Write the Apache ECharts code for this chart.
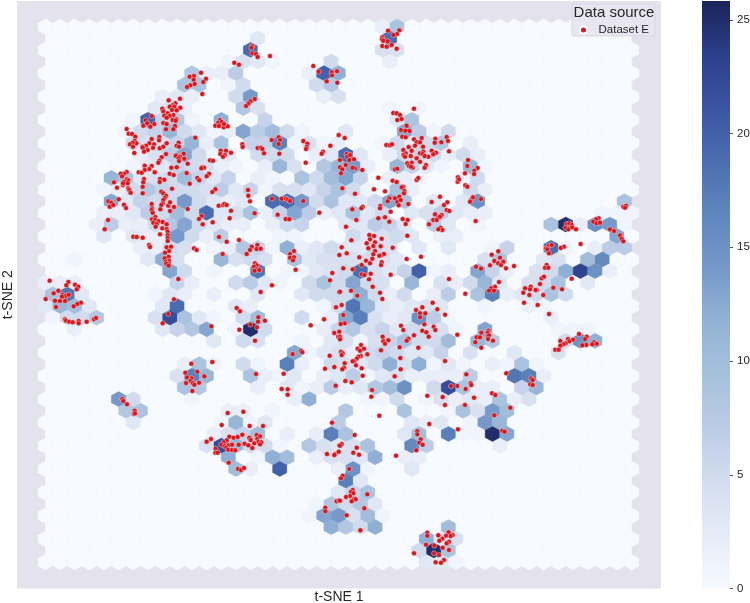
<!DOCTYPE html>
<html><head><meta charset="utf-8">
<style>html,body{margin:0;padding:0;background:#fff}#c{width:750px;height:603px}</style>
<script src="https://cdn.jsdelivr.net/npm/echarts@6/dist/echarts.min.js"></script></head>
<body><div id="c"></div>
<script>
// hexCounts[row] = [col,count, col,count, ...]; cells not listed hold 0
const hexCounts = [
/*0*/[23,2,24,9],
/*1*/[14,3,23,19],
/*2*/[14,19,23,4,24,4],
/*3*/[12,1,13,4,14,3,15,1,19,5,23,2],
/*4*/[10,8,11,2,12,2,13,7,18,2,19,20,20,12],
/*5*/[9,9,10,9,12,1,13,5,18,5,19,8],
/*6*/[8,2,9,3,10,2,13,5,14,14,19,2,20,4],
/*7*/[7,3,8,4,9,2,13,8,14,4,23,1,25,1],
/*8*/[6,1,7,20,8,6,9,8,10,1,12,12,15,6,24,3,25,9],
/*9*/[5,1,6,5,7,6,8,11,9,5,10,3,11,1,12,2,13,13,14,7,15,10,16,5,17,1,20,3,24,13,25,7,26,1,27,5],
/*10*/[6,5,7,4,8,4,9,6,10,11,11,2,12,9,14,6,15,6,16,17,17,1,18,4,19,1,20,2,23,1,24,5,25,2,26,5,27,8,29,2],
/*11*/[6,2,7,4,8,7,9,13,10,5,11,1,12,3,14,5,15,5,16,5,18,2,19,3,20,19,21,3,23,2,24,5,25,6,26,5,27,2,28,5,29,2],
/*12*/[6,1,7,3,8,3,9,6,10,5,11,4,12,2,13,1,15,2,16,11,17,4,19,8,20,11,21,14,22,2,24,11,25,6,26,3,27,1,29,11,30,1],
/*13*/[4,11,5,9,6,3,7,4,8,5,9,10,10,6,11,3,12,6,14,2,15,1,17,9,18,5,19,10,20,13,21,6,23,2,24,2,25,1,28,1,29,5],
/*14*/[4,1,5,2,6,5,7,8,8,6,9,5,10,5,11,4,12,7,13,3,14,6,15,1,16,4,17,4,18,3,19,6,20,9,21,5,22,1,24,9,25,2,29,5,30,2],
/*15*/[4,13,5,3,6,6,7,5,8,5,9,14,10,5,11,3,12,2,13,3,15,19,16,19,17,14,18,5,19,9,20,3,21,3,22,5,23,13,24,9,26,3,28,3,29,15,39,9],
/*16*/[4,2,5,2,6,3,7,7,8,5,9,10,10,5,11,19,12,3,13,4,14,9,15,2,16,6,17,13,18,7,19,2,20,3,21,9,22,3,23,5,25,3,26,4,27,7,28,3,29,2,30,2,38,1,39,1,40,1],
/*17*/[3,2,4,7,5,2,6,2,7,5,8,8,9,13,10,5,11,3,12,2,13,2,15,2,16,5,17,6,20,3,21,3,22,7,23,6,24,3,26,7,27,3,29,1,34,9,35,25,36,2,37,15,38,14,39,1],
/*18*/[4,3,6,3,7,2,8,2,9,14,10,5,11,2,12,7,16,1,17,1,21,5,22,3,23,4,24,5,25,3,27,2,28,2,39,13],
/*19*/[6,2,7,2,8,5,9,4,11,1,12,2,13,8,14,6,15,1,16,12,17,2,18,3,19,5,20,3,21,3,22,6,23,4,25,3,27,3,30,1,31,6,34,19,35,1,37,2,38,7,39,7],
/*20*/[2,1,7,3,8,12,9,4,12,11,13,4,14,5,15,4,17,9,18,3,19,4,20,4,21,4,22,5,23,4,24,3,30,4,31,9,34,3,35,4,37,10,38,16],
/*21*/[8,13,9,5,11,1,14,18,16,1,17,1,18,3,19,4,20,5,21,19,22,4,23,3,24,6,25,20,26,1,27,2,29,13,30,6,31,2,33,4,34,5,35,12,36,23,37,15,38,2],
/*22*/[0,2,1,2,2,2,9,6,10,2,13,5,14,7,15,3,16,1,18,5,19,9,20,5,21,13,22,5,23,4,25,11,27,4,28,2,29,5,30,11,31,3,33,4,34,5,35,9,37,3],
/*23*/[0,9,1,18,2,3,7,1,8,3,9,2,11,2,14,3,17,3,18,5,19,5,20,5,21,12,22,5,23,2,24,5,26,2,27,7,29,9,30,17,31,2,32,3,33,5,34,9,35,5],
/*24*/[0,3,1,11,2,10,3,3,8,3,9,19,13,3,14,2,19,1,20,5,21,18,22,11,23,3,24,2,25,3,26,4,27,3,30,1,33,2,34,1],
/*25*/[0,1,1,5,2,5,3,8,7,4,8,22,9,9,10,3,11,1,13,5,14,10,17,5,19,2,20,13,21,17,22,4,23,2,24,3,25,15,26,7,27,1,34,2],
/*26*/[2,2,8,3,9,6,10,8,11,13,13,1,14,25,15,5,19,2,20,6,21,8,22,4,23,6,24,3,25,5,26,5,27,4,28,1,30,13,35,1,36,1,37,1],
/*27*/[11,3,13,5,14,4,17,1,19,3,20,4,21,1,22,4,23,6,24,9,25,5,26,5,27,10,29,11,30,8,35,5,36,15,37,12],
/*28*/[17,13,18,1,19,3,20,4,21,2,22,5,23,6,24,5,25,3,26,3,27,6,29,4,32,3,35,4],
/*29*/[9,2,10,9,11,1,13,5,14,1,16,17,17,2,19,5,20,4,21,3,22,5,23,12,24,4,25,12,26,1,27,3,28,1,30,2,31,1,32,9,33,1],
/*30*/[9,4,10,17,11,11,14,9,15,2,16,1,17,3,19,2,20,3,21,7,22,1,23,3,24,4,25,2,26,2,27,2,28,2,29,7,32,18,33,17,34,2],
/*31*/[9,9,10,8,14,2,16,3,17,1,18,2,19,7,20,2,21,3,22,8,23,10,24,15,26,5,27,22,28,9,29,2,30,2,32,6,33,11],
/*32*/[5,14,6,5,10,1,17,2,18,12,22,1,23,1,24,5,26,1,27,4,28,2,29,3,30,2,31,9,32,2,33,4],
/*33*/[5,8,6,9,12,2,13,2,15,1,20,8,24,9,27,1,28,9,29,4,30,14,31,10],
/*34*/[6,3,12,1,13,11,14,1,15,3,20,7,25,3,26,2,27,3,29,1,30,14,31,11],
/*35*/[11,2,12,4,13,6,14,10,16,2,18,2,19,17,20,9,24,3,25,10,27,17,28,1,29,1,30,25,31,13],
/*36*/[11,4,12,22,13,11,14,5,15,5,16,1,18,8,19,4,20,3,21,4,22,9,25,16,26,7,31,2],
/*37*/[12,12,14,1,15,12,16,10,18,2,19,4,20,4,21,3,22,12,24,2,25,2],
/*38*/[13,10,14,2,16,20,20,2,21,15,22,1,25,3],
/*39*/[20,17,21,3],
/*40*/[20,3,21,6,22,9],
/*41*/[18,1,19,8,20,5,21,8,22,3],
/*42*/[18,1,19,13,20,14,21,4,22,10,23,1],
/*43*/[19,12,20,8,21,5,22,12,27,10],
/*44*/[26,12,27,3,28,4],
/*45*/[25,5,26,25,27,9],
/*46*/[26,3,27,3,28,1]
];

const pointsUpperLeft = [[757,138],[754,143],[757,160],[768,162],[773,171],[810,168],[703,188],[717,194],[940,198],[956,215],[995,217],[1011,214],[996,226],[980,244],[1012,248],[569,230],[582,228],[603,218],[618,236],[581,239],[610,246],[584,252],[571,256],[561,261],[607,282],[764,297],[751,304],[745,311],[738,318],[540,296],[506,301],[526,310],[518,316],[509,320],[523,320],[541,323],[487,326],[516,330],[530,331],[490,334],[503,340],[520,345],[509,348],[493,347],[500,353],[529,358],[518,360],[527,362],[455,348],[437,361],[430,377],[442,370],[451,380],[463,372],[490,369],[500,372],[525,378],[520,388],[498,388],[380,387],[386,401],[396,402],[406,410],[404,423],[409,430],[398,428],[390,433],[399,440],[403,459],[455,417],[478,411],[477,421],[448,430],[462,433],[438,437],[427,440],[443,450],[428,443],[459,443],[432,455],[479,445],[490,440],[500,430],[536,428],[530,437],[537,440],[586,413],[660,360],[655,368],[665,366],[646,377],[657,378],[671,382],[683,379],[672,372],[727,433],[728,441],[773,444],[783,443],[787,447],[792,460],[815,420],[836,412],[840,420],[836,432],[838,461],[662,452],[678,452],[693,458],[661,462],[674,465],[669,470],[910,423],[922,431],[920,441],[918,447],[969,455],[965,461],[991,437],[1016,405],[530,465],[551,461],[527,467],[540,470],[536,475],[553,476],[537,483],[498,462],[485,472],[478,482],[475,488],[563,491],[607,502],[612,503],[604,505],[630,481],[639,482],[434,497],[455,498],[448,507],[434,510],[464,517],[416,517],[425,518],[380,516],[372,521],[362,521],[366,529],[530,502],[514,503],[509,521],[521,525],[560,519],[627,521],[620,529],[592,534],[598,541],[917,488],[380,538],[385,541],[372,545],[383,550],[369,555],[342,547],[432,537],[430,547],[480,537],[493,539],[479,546],[369,550],[428,560],[516,566],[351,563],[385,565],[388,570],[392,578],[428,580],[484,575],[569,551],[646,568],[637,576],[490,580],[744,570],[745,587],[750,604],[816,596],[845,596],[858,596],[863,600],[870,603],[910,603],[498,587],[494,594],[490,600],[488,610],[484,615],[481,628],[522,621],[510,633],[505,617],[510,607],[356,598],[325,604],[334,608],[329,620],[340,615],[372,614],[378,624],[455,612],[456,625],[455,630],[458,638],[563,627],[656,617],[669,615],[673,612],[680,615],[693,632],[689,655],[764,640],[833,644],[857,657],[868,658],[958,638],[605,648],[597,657],[608,673],[638,667],[466,651],[456,658],[465,660],[476,664],[488,666],[460,668],[470,672],[467,680],[487,685],[500,673],[500,687],[503,695],[503,706],[503,714],[503,723],[324,660],[314,688],[480,703],[400,710],[410,711],[428,713],[447,735],[450,741],[500,742],[513,740],[507,753],[495,758],[582,745],[590,750],[506,770],[494,775],[507,782],[497,785],[506,790],[499,791],[506,797],[535,837],[657,711],[680,725],[717,720],[772,735],[755,740],[750,750],[770,747],[782,746],[740,762],[668,762],[882,753],[870,762],[870,773],[882,772],[879,781],[887,809],[765,790],[770,796],[762,800],[770,808],[764,812],[778,810],[816,856],[782,876],[997,819],[990,841],[1018,765],[149,842],[205,846],[199,856],[225,854],[235,860],[230,868],[175,872],[161,880],[188,884],[196,888],[206,884],[186,890],[137,897],[522,898],[1018,877]];

const pointsUpperRight = [[1164,92],[1198,91],[1191,102],[1180,105],[1147,112],[1146,118],[1150,122],[1163,124],[1147,138],[1160,140],[1175,135],[1190,146],[1242,326],[1180,339],[1190,340],[1200,345],[1192,360],[1205,357],[1220,377],[1203,390],[1216,392],[1229,393],[1207,410],[1217,412],[1034,414],[1265,414],[1242,418],[1250,427],[1260,427],[1306,416],[1340,411],[1344,423],[1324,427],[1304,428],[1159,435],[1170,436],[1176,433],[1245,437],[1226,441],[1210,450],[1269,440],[1235,452],[1217,460],[1232,468],[1260,460],[1211,465],[1270,455],[1215,470],[1250,475],[1285,470],[1295,452],[1308,458],[1300,463],[1347,454],[1268,462],[1274,468],[1260,485],[1235,488],[1222,490],[1278,495],[1274,503],[1227,497],[1238,503],[1233,500],[1404,480],[1402,498],[1433,504],[1423,512],[1422,522],[1395,520],[1040,462],[1042,470],[1050,465],[1048,480],[1062,478],[1065,505],[1058,503],[1087,510],[1037,495],[1020,502],[1027,508],[1023,520],[1020,480],[1135,533],[1185,508],[1192,506],[1250,540],[1255,534],[1178,542],[1190,546],[1374,532],[1373,545],[1377,538],[1396,556],[1402,560],[1210,560],[1205,562],[1213,573],[1212,580],[1168,595],[1185,595],[1198,590],[1192,606],[1202,600],[1225,612],[1163,604],[1196,616],[1122,568],[1155,574],[1027,565],[1065,581],[1295,606],[1320,590],[1342,607],[1332,615],[1340,630],[1305,643],[1325,645],[1315,652],[1300,660],[1310,660],[1320,650],[1348,633],[1322,683],[1327,690],[1315,688],[1287,673],[1413,600],[1419,592],[1410,605],[1443,597],[1427,663],[1141,618],[1140,625],[1088,620],[1084,625],[1057,628],[1172,635],[1135,655],[1155,652],[1168,665],[1208,657],[1223,660],[1217,672],[1038,680],[1069,660],[1222,707],[1870,620],[1878,617],[1875,623],[1796,655],[1788,658],[1780,665],[1790,670],[1800,668],[1700,672],[1708,670],[1715,675],[1696,683],[1705,688],[1717,682],[1728,688],[1830,688],[1842,693],[1860,706],[1865,716],[1870,724],[1742,732],[1645,738],[1638,745],[1655,735],[1642,748],[1647,760],[1692,740],[1682,744],[1495,754],[1475,764],[1483,783],[1500,773],[1510,785],[1495,790],[1503,795],[1470,796],[1518,805],[1542,798],[1428,800],[1443,806],[1640,795],[1635,803],[1645,803],[1715,836],[1625,835],[1632,830],[1620,852],[1610,870],[1592,860],[1575,865],[1590,868],[1570,878],[1588,885],[1630,885],[1607,870],[1660,863],[1686,868],[1347,837],[1396,881],[1497,846],[1485,860],[1473,865],[1467,872],[1482,872],[1108,705],[1122,708],[1145,716],[1110,718],[1100,730],[1125,727],[1120,738],[1142,739],[1105,745],[1178,743],[1125,753],[1145,765],[1138,767],[1120,763],[1152,762],[1078,772],[1117,776],[1145,787],[1143,795],[1025,742],[1040,760],[1054,721],[1098,782],[1085,795],[1110,790],[1058,808],[1030,805],[1085,823],[1112,821],[1172,824],[1093,825],[1107,838],[1220,777],[1263,770],[1118,860],[1053,872],[1140,878],[1020,875],[1072,887],[1147,897]];

const pointsLowerLeft = [[165,902],[180,903],[195,903],[243,908],[232,912],[221,919],[168,921],[195,958],[198,962],[208,965],[218,967],[236,963],[236,970],[260,965],[282,958],[288,954],[505,942],[488,970],[634,979],[710,924],[720,934],[775,952],[774,965],[795,962],[751,974],[718,989],[771,982],[765,1022],[878,1062],[903,1052],[907,1057],[851,1121],[768,1122],[845,1167],[863,1168],[863,1184],[932,976],[972,958],[1008,922],[1003,999],[1018,995],[989,1067],[1003,1101],[975,1106],[1007,1157],[1015,1010],[637,1086],[574,1091],[556,1118],[592,1115],[613,1129],[561,1132],[575,1135],[558,1149],[572,1143],[578,1149],[583,1154],[597,1148],[577,1173],[367,1197],[370,1203],[381,1213],[404,1232],[402,1242],[405,1240],[683,1239],[730,1235],[665,1275],[749,1278],[789,1278],[633,1317],[620,1325],[688,1310],[701,1313],[713,1311],[727,1304],[770,1305],[780,1309],[748,1313],[772,1317],[752,1320],[680,1321],[671,1327],[664,1334],[674,1338],[686,1336],[696,1334],[679,1343],[647,1346],[685,1349],[696,1350],[706,1351],[716,1334],[734,1331],[745,1336],[757,1344],[763,1330],[776,1325],[784,1327],[780,1333],[646,1358],[653,1358],[686,1388],[714,1407],[723,1410],[732,1404],[996,1268],[1018,1336],[1006,1362],[1003,1365],[981,1362],[1016,1355],[1010,1504],[1017,1501],[976,1523],[976,1534]];

const pointsLowerRight = [[1025,915],[1248,930],[1267,922],[1298,908],[1312,928],[1260,940],[1276,940],[1335,944],[1260,952],[1572,908],[1613,915],[1647,942],[1030,945],[1034,970],[1022,972],[1273,973],[1203,977],[1301,980],[1210,990],[1306,990],[1267,992],[1279,997],[1242,1006],[1286,1010],[1372,1004],[1148,1010],[1150,1024],[1165,1021],[1155,1031],[1225,1016],[1220,1022],[1199,1042],[1255,1043],[1143,1051],[1020,1010],[1020,1018],[1444,998],[1465,992],[1463,998],[1430,1012],[1440,1012],[1463,1008],[1467,1006],[1464,1017],[1479,1022],[1426,1027],[1444,1043],[1737,1002],[1760,1010],[1755,1017],[1704,1017],[1719,1019],[1708,1024],[1681,1023],[1697,1030],[1690,1033],[1681,1037],[1666,1049],[1676,1049],[1782,1027],[1790,1031],[1777,1033],[1759,1035],[1747,1036],[1083,1035],[1073,1046],[1080,1052],[1092,1046],[1102,1063],[1082,1068],[1075,1070],[1070,1076],[1063,1083],[1058,1084],[1034,1090],[1068,1096],[1032,1103],[1085,1105],[1027,1108],[1088,1127],[1036,1143],[1055,1147],[1023,1055],[1028,1060],[1025,1065],[1201,1074],[1202,1108],[1184,1129],[1335,1083],[1399,1123],[1519,1120],[1593,1135],[1598,1140],[1591,1153],[1598,1155],[1353,1158],[1372,1158],[1412,1150],[1414,1155],[1397,1167],[1476,1180],[1486,1185],[1422,1193],[1282,1187],[1328,1191],[1335,1215],[1395,1215],[1531,1223],[1483,1246],[1116,1170],[1114,1190],[1138,1247],[1288,1272],[1374,1288],[1252,1294],[1252,1303],[1507,1292],[1514,1295],[1262,1318],[1258,1328],[1268,1334],[1249,1351],[1188,1367],[1064,1305],[1025,1332],[1020,1337],[1070,1343],[1060,1358],[1077,1364],[1048,1407],[1028,1427],[1023,1435],[1058,1470],[1053,1476],[1060,1480],[1050,1488],[1038,1491],[1063,1496],[1067,1498],[1055,1504],[1102,1483],[1020,1502],[1093,1525],[1040,1546],[1081,1591],[1282,1598],[1282,1607],[1346,1597],[1358,1605],[1338,1607],[1352,1608],[1315,1606],[1327,1616],[1318,1622],[1347,1625],[1340,1630],[1278,1634],[1303,1637],[1328,1643],[1347,1650],[1242,1660],[1302,1660],[1317,1665],[1332,1680],[1323,1688],[1307,1687]];

const legendLabel = 'Dataset E';
const colorbarTicks = {min: 0, max: 25.83, interval: 5};
const colorStops = ['#F7FAFF','#E6ECF7','#D3DDEF','#BCCBE6','#A6C1DC','#92B3D5','#7698C9','#5F86BC','#4C6EB0','#3B54A2','#2C3F8C','#1B2459'];

const hexData = [];
hexCounts.forEach(function (cells, row) {
  const odd = row % 2 === 1;
  const nCols = odd ? 40 : 41;
  const counts = new Array(nCols).fill(0);
  for (let k = 0; k < cells.length; k += 2) counts[cells[k]] = cells[k + 1];
  counts.forEach(function (v, col) {
    hexData.push([(odd ? 158 : 136) + 43.98 * col, 80.4 + 34.92 * row, v]);
  });
});
const HW = 21.99, HT = 23.28, HS = 11.64;
const points = pointsUpperLeft.concat(pointsUpperRight, pointsLowerLeft, pointsLowerRight);
const ff = '"Liberation Sans", Arial, sans-serif';

const barGradient = new echarts.graphic.LinearGradient(0, 1, 0, 0, colorStops.map(function (c, i) {
  return {offset: i / (colorStops.length - 1), color: c};
}));

const chart = echarts.init(document.getElementById('c'), null, {renderer: 'canvas'});
chart.setOption({
  animation: false,
  backgroundColor: '#fff',
  grid: [
    {left: 17, top: 1, width: 644, height: 587.5, show: true, backgroundColor: '#E4E2EC', borderWidth: 0, outerBoundsMode: 'none', containLabel: false},
    {left: 702, top: 1, width: 28, height: 587.5, show: false, outerBoundsMode: 'none', containLabel: false}
  ],
  xAxis: [
    {gridIndex: 0, type: 'value', min: 51, max: 1983, name: 't-SNE 1', nameLocation: 'middle', nameGap: 2,
     nameTextStyle: {fontFamily: ff, fontSize: 14, color: '#262626'},
     axisLine: {show: false}, axisTick: {show: false}, axisLabel: {show: false}, splitLine: {show: false}},
    {gridIndex: 1, type: 'category', data: ['count'], show: false}
  ],
  yAxis: [
    {gridIndex: 0, type: 'value', inverse: true, min: 3, max: 1765.5, name: 't-SNE 2', nameLocation: 'middle', nameGap: 2,
     nameTextStyle: {fontFamily: ff, fontSize: 14, color: '#262626'},
     axisLine: {show: false}, axisTick: {show: false}, axisLabel: {show: false}, splitLine: {show: false}},
    {gridIndex: 1, type: 'value', position: 'right', min: colorbarTicks.min, max: colorbarTicks.max, interval: colorbarTicks.interval, z: 30,
     axisLine: {show: false, onZero: false}, splitLine: {show: false},
     axisTick: {show: true, length: 3, lineStyle: {color: '#555', width: 1}},
     axisLabel: {show: true, margin: 7, fontFamily: ff, fontSize: 11.5, color: '#262626', showMaxLabel: false,
       formatter: function (v) { return Number.isInteger(v) ? String(v) : ''; }}}
  ],
  visualMap: {
    type: 'continuous', show: false, seriesIndex: 0, dimension: 2, min: colorbarTicks.min, max: colorbarTicks.max,
    inRange: {color: colorStops}
  },
  title: {text: 'Data source', left: 614, top: 5, padding: 0, textAlign: 'center',
    textStyle: {fontFamily: ff, fontSize: 15, fontWeight: 'normal', color: '#262626'}, z: 20},
  legend: {
    data: [legendLabel], orient: 'vertical', left: 572, top: 4, padding: [20, 6, 0, 7],
    itemWidth: 14, itemHeight: 7, backgroundColor: 'rgba(231,229,239,0.96)', borderColor: '#D8D6E2', borderWidth: 1, borderRadius: 2,
    textStyle: {fontFamily: ff, fontSize: 11.5, color: '#262626', padding: [0, 0, 0, 3]}, z: 15, selectedMode: false
  },
  series: [
    {type: 'custom', name: 'hex', xAxisIndex: 0, yAxisIndex: 0, coordinateSystem: 'cartesian2d', silent: true,
     clip: true, data: hexData, encode: {x: 0, y: 1},
     renderItem: function (params, api) {
       const x = api.value(0), y = api.value(1);
       const pts = [[x, y + HT], [x + HW, y + HS], [x + HW, y - HS], [x, y - HT], [x - HW, y - HS], [x - HW, y + HS]].map(function (p) { return api.coord(p); });
       const col = api.visual('color');
       return {type: 'polygon', shape: {points: pts}, style: {fill: col, stroke: col, lineWidth: 0.3}};
     }, z: 2},
    {type: 'scatter', name: legendLabel, xAxisIndex: 0, yAxisIndex: 0, data: points, symbol: 'circle', symbolSize: 5, silent: true,
     itemStyle: {color: '#D7161E', borderColor: '#FFFFFF', borderWidth: 0.4, opacity: 1}, z: 5, large: false},
    {type: 'bar', name: 'colorbar', xAxisIndex: 1, yAxisIndex: 1, data: [colorbarTicks.max], barWidth: '100%', silent: true,
     itemStyle: {color: barGradient, borderWidth: 0}}
  ]
});
</script></body></html>
